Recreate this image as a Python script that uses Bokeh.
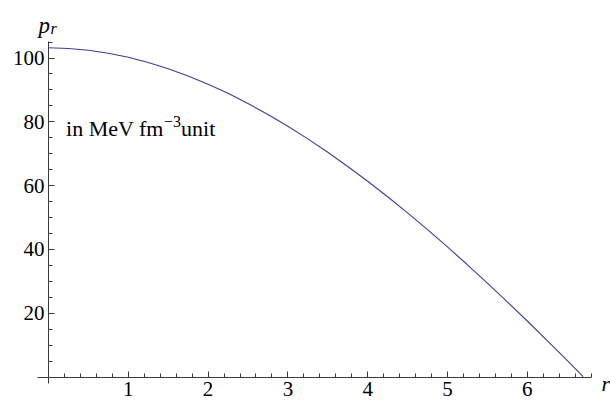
from bokeh.plotting import figure
from bokeh.models import LinearAxis, FixedTicker, Range1d, Label, ColumnDataSource
from bokeh.embed import file_html
from bokeh.resources import INLINE

# data
r_vals = [0.0, 0.25, 0.5, 0.75, 1.0, 1.25, 1.5, 1.75, 2.0, 2.25, 2.5, 2.75, 3.0,
          3.25, 3.5, 3.75, 4.0, 4.25, 4.5, 4.75, 5.0, 5.25, 5.5, 5.75, 6.0,
          6.25, 6.5, 6.7]
p_vals = [103.2, 103.0, 102.44, 101.51, 100.23, 98.61, 96.65, 94.38, 91.80,
          88.92, 85.75, 82.30, 78.61, 74.64, 70.44, 66.01, 61.36, 56.50,
          51.44, 46.20, 40.77, 35.18, 29.45, 23.57, 17.56, 11.42, 5.18, 0.1]

x_major = [1, 2, 3, 4, 5, 6]
x_minor = [0.2, 0.4, 0.6, 0.8, 1.2, 1.4, 1.6, 1.8, 2.2, 2.4, 2.6, 2.8, 3.2, 3.4,
           3.6, 3.8, 4.2, 4.4, 4.6, 4.8, 5.2, 5.4, 5.6, 5.8, 6.2, 6.4, 6.6, 6.8]
y_major = [20, 40, 60, 80, 100]
y_minor = [5, 10, 15, 25, 30, 35, 45, 50, 55, 65, 70, 75, 85, 90, 95, 105]

FONT = "Liberation Serif"
AX = "#3a3a3a"
TXT = "black"

p = figure(frame_width=610, frame_height=401, width=610, height=401,
           x_range=Range1d(-0.6015, 7.043), y_range=Range1d(-7.68, 118.03),
           x_axis_type=None, y_axis_type=None, toolbar_location=None,
           output_backend="svg", min_border=0)
p.grid.visible = False
p.outline_line_color = None
p.background_fill_color = "white"
p.border_fill_color = "white"

src = ColumnDataSource(data=dict(r=r_vals, p=p_vals))
p.line("r", "p", source=src, line_color="#3d3d99", line_width=1.1)

def style(ax):
    ax.axis_line_color = AX
    ax.axis_line_width = 1
    ax.major_tick_line_color = AX
    ax.minor_tick_line_color = AX
    ax.major_tick_in = 6
    ax.major_tick_out = 0
    ax.minor_tick_in = 4
    ax.minor_tick_out = 0
    ax.major_label_text_font = FONT
    ax.major_label_text_font_size = "21px"
    ax.major_label_text_color = TXT

xa = LinearAxis(fixed_location=0, bounds=(-0.142, 6.81),
                ticker=FixedTicker(ticks=x_major, minor_ticks=x_minor))
style(xa)
xa.major_label_standoff = 5
p.add_layout(xa, "below")

ya = LinearAxis(fixed_location=0, bounds=(-2.1, 105.2),
                ticker=FixedTicker(ticks=y_major, minor_ticks=y_minor))
style(ya)
ya.major_label_standoff = 4
p.add_layout(ya, "left")

# axis labels
p.add_layout(Label(x=-0.125, y=110.2, text="p", text_font=FONT, text_font_style="italic",
                   text_font_size="23px", text_baseline="alphabetic", text_color=TXT))
p.add_layout(Label(x=-0.125, y=110.2, x_offset=12, y_offset=-3, text="r", text_font=FONT,
                   text_font_style="italic", text_font_size="16px", text_baseline="alphabetic",
                   text_color=TXT))
p.add_layout(Label(x=6.93, y=0, y_offset=-6, text="r", text_font=FONT, text_font_style="italic",
                   text_font_size="22px", text_baseline="alphabetic", text_color=TXT))

# annotation text
p.add_layout(Label(x=0.22, y=77.9, text="in MeV fm", text_font=FONT,
                   text_font_size="22px", text_baseline="alphabetic", text_color=TXT))
p.add_layout(Label(x=0.22, y=77.9, x_offset=98, y_offset=7, text="\u22123", text_font=FONT,
                   text_font_size="16px", text_baseline="alphabetic", text_color=TXT))
p.add_layout(Label(x=0.22, y=77.9, x_offset=115, text="unit", text_font=FONT,
                   text_font_size="22px", text_baseline="alphabetic", text_color=TXT))

open("out.html", "w").write(file_html(p, INLINE))
